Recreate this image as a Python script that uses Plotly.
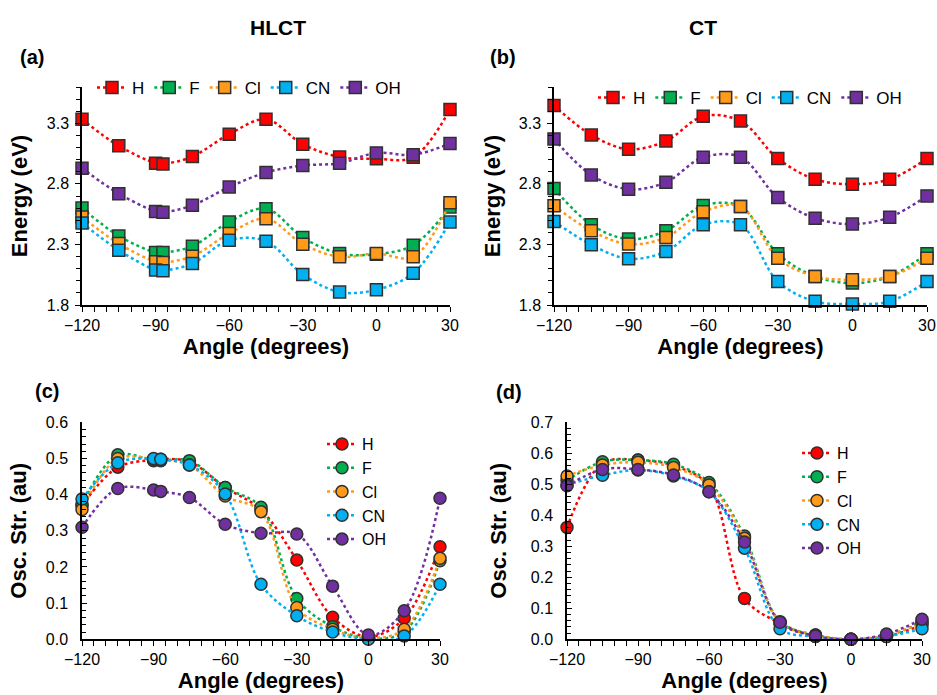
import plotly.graph_objects as go

names = ["H", "F", "Cl", "CN", "OH"]
colors = ["#FF0000", "#00B050", "#FF9A1A", "#00B0F0", "#7030A0"]

ang_a = [-120, -105, -90, -87, -75, -60, -45, -30, -15, 0, 15, 30]
ang_b = [-120, -105, -90, -75, -60, -45, -30, -15, 0, 15, 30]

# (a) HLCT energies (eV)
hlct_E = {
    "H":  [3.333, 3.114, 2.971, 2.965, 3.026, 3.210, 3.333, 3.127, 3.023, 3.007, 3.020, 3.415],
    "F":  [2.600, 2.370, 2.233, 2.233, 2.285, 2.486, 2.595, 2.357, 2.225, 2.220, 2.294, 2.610],
    "Cl": [2.527, 2.307, 2.157, 2.151, 2.203, 2.390, 2.513, 2.302, 2.198, 2.225, 2.198, 2.645],
    "CN": [2.477, 2.253, 2.088, 2.083, 2.143, 2.335, 2.327, 2.052, 1.907, 1.926, 2.063, 2.486],
    "OH": [2.930, 2.719, 2.573, 2.565, 2.623, 2.774, 2.894, 2.952, 2.971, 3.056, 3.040, 3.133],
}
# (b) CT energies (eV)
ct_E = {
    "H":  [3.448, 3.204, 3.086, 3.154, 3.358, 3.319, 3.009, 2.838, 2.797, 2.838, 3.009],
    "F":  [2.762, 2.463, 2.344, 2.413, 2.621, 2.613, 2.223, 2.036, 1.981, 2.036, 2.223],
    "Cl": [2.619, 2.413, 2.303, 2.358, 2.569, 2.613, 2.185, 2.036, 2.009, 2.036, 2.185],
    "CN": [2.490, 2.297, 2.182, 2.242, 2.462, 2.462, 1.995, 1.830, 1.808, 1.830, 1.995],
    "OH": [3.171, 2.874, 2.756, 2.814, 3.020, 3.020, 2.687, 2.517, 2.468, 2.525, 2.701],
}
# (c) HLCT oscillator strengths (au)
hlct_f = {
    "H":  [0.370, 0.476, 0.496, 0.498, 0.491, 0.420, 0.358, 0.219, 0.061, 0.007, 0.058, 0.256],
    "F":  [0.373, 0.510, 0.494, 0.494, 0.494, 0.420, 0.365, 0.113, 0.035, 0.003, 0.021, 0.217],
    "Cl": [0.359, 0.500, 0.498, 0.496, 0.482, 0.396, 0.353, 0.088, 0.028, 0.003, 0.028, 0.224],
    "CN": [0.388, 0.488, 0.500, 0.498, 0.482, 0.402, 0.152, 0.065, 0.020, 0.000, 0.009, 0.152],
    "OH": [0.310, 0.417, 0.413, 0.409, 0.392, 0.318, 0.293, 0.291, 0.147, 0.012, 0.079, 0.390],
}
# (d) CT oscillator strengths (au)
ct_f = {
    "H":  [0.361, 0.568, 0.578, 0.560, 0.495, 0.132, 0.052, 0.009, 0.000, 0.009, 0.046],
    "F":  [0.512, 0.573, 0.578, 0.565, 0.506, 0.333, 0.057, 0.014, 0.000, 0.009, 0.057],
    "Cl": [0.527, 0.562, 0.571, 0.554, 0.498, 0.326, 0.054, 0.014, 0.000, 0.014, 0.052],
    "CN": [0.498, 0.529, 0.546, 0.527, 0.476, 0.294, 0.034, 0.009, 0.000, 0.009, 0.034],
    "OH": [0.495, 0.548, 0.548, 0.530, 0.476, 0.314, 0.055, 0.011, 0.000, 0.017, 0.065],
}

FONT = "Liberation Sans, Arial, sans-serif"
W, H = 937, 695

fig = go.Figure()

panels = [
    (ang_a, hlct_E, "square", "x", "y", "legend"),
    (ang_b, ct_E, "square", "x2", "y2", "legend2"),
    (ang_a, hlct_f, "circle", "x3", "y3", "legend3"),
    (ang_b, ct_f, "circle", "x4", "y4", "legend4"),
]
for xs, data, sym, xa, ya, lg in panels:
    for n, c in zip(names, colors):
        fig.add_trace(go.Scatter(
            x=xs, y=data[n], name=n, mode="lines+markers",
            xaxis=xa, yaxis=ya, legend=lg, cliponaxis=False,
            line=dict(color=c, width=2.5, dash="dot", shape="spline", smoothing=1.0),
            marker=dict(symbol=sym, size=12, color=c, line=dict(color="#303030", width=1.5)),
        ))

def px_dom_x(a, b):
    return [a / W, b / W]

def px_dom_y(top, bot):
    return [1 - bot / H, 1 - top / H]

tickfont = dict(family=FONT, size=16, color="black")
titlefont = dict(family=FONT, size=22, color="black", weight="bold")

def xaxis(dom, anchor):
    return dict(domain=dom, anchor=anchor, range=[-120, 30], tick0=-120, dtick=30,
                showgrid=False, zeroline=False, showline=True, linecolor="black", linewidth=1.5,
                ticks="outside", ticklen=5, tickwidth=1.2, tickcolor="black", tickfont=tickfont,
                automargin=False,
                minor=dict(dtick=5, ticks="outside", ticklen=5, tickwidth=1.2, tickcolor="black"),
                title=dict(text="Angle (degrees)", font=titlefont, standoff=4))

def yaxis(dom, anchor, rng, t0, dt, mdt, title, fmt, so, tk, tls):
    return dict(domain=dom, anchor=anchor, range=rng, tick0=t0, dtick=dt, tickformat=fmt,
                showgrid=False, zeroline=False, showline=True, linecolor="black", linewidth=1.5,
                ticks=tk, ticklen=5, tickwidth=1.2, tickcolor="black", tickfont=tickfont,
                ticklabelstandoff=tls, automargin=False,
                minor=dict(dtick=mdt, tick0=t0, ticks=tk, ticklen=4, tickwidth=1.2, tickcolor="black"),
                title=dict(text=title, font=titlefont, standoff=so))

top_y = px_dom_y(87, 305)
bot_y = px_dom_y(422.3, 639.3)

fig.update_layout(
    width=W, height=H,
    margin=dict(l=0, r=0, t=0, b=0, autoexpand=False),
    paper_bgcolor="white", plot_bgcolor="white",
    font=dict(family=FONT, color="black"),
    xaxis=xaxis(px_dom_x(82, 450), "y"),
    yaxis=yaxis(top_y, "x", [1.8, 3.6], 1.8, 0.5, 0.1, "Energy (eV)", ".1f", 13, "outside", 3),
    xaxis2=xaxis(px_dom_x(554, 927), "y2"),
    yaxis2=yaxis(top_y, "x2", [1.8, 3.6], 1.8, 0.5, 0.1, "Energy (eV)", ".1f", 12, "outside", 3),
    xaxis3=xaxis(px_dom_x(82, 440), "y3"),
    yaxis3=yaxis(bot_y, "x3", [0, 0.6], 0, 0.1, 0.02, "Osc. Str. (au)", ".1f", 13, "inside", 9),
    xaxis4=xaxis(px_dom_x(567, 922), "y4"),
    yaxis4=yaxis(bot_y, "x4", [0, 0.7], 0, 0.1, 0.02, "Osc. Str. (au)", ".1f", 18, "inside", 9),
    legend=dict(orientation="h", x=92 / W, y=1 - 88 / H, xanchor="left", yanchor="middle",
                bgcolor="rgba(0,0,0,0)", font=dict(family=FONT, size=17), itemwidth=30),
    legend2=dict(orientation="h", x=593 / W, y=1 - 98 / H, xanchor="left", yanchor="middle",
                 bgcolor="rgba(0,0,0,0)", font=dict(family=FONT, size=17), itemwidth=30),
    legend3=dict(orientation="v", x=322 / W, y=1 - 427 / H, xanchor="left", yanchor="top",
                 bgcolor="rgba(0,0,0,0)", font=dict(family=FONT, size=16), itemwidth=30),
    legend4=dict(orientation="v", x=797 / W, y=1 - 436 / H, xanchor="left", yanchor="top",
                 bgcolor="rgba(0,0,0,0)", font=dict(family=FONT, size=16), itemwidth=30),
    annotations=[
        dict(text="<b>HLCT</b>", x=278 / W, y=1 - 27 / H, xref="paper", yref="paper",
             showarrow=False, font=dict(family=FONT, size=21), xanchor="center", yanchor="middle"),
        dict(text="<b>CT</b>", x=703 / W, y=1 - 27 / H, xref="paper", yref="paper",
             showarrow=False, font=dict(family=FONT, size=21), xanchor="center", yanchor="middle"),
        dict(text="<b>(a)</b>", x=32 / W, y=1 - 57 / H, xref="paper", yref="paper",
             showarrow=False, font=dict(family=FONT, size=20), xanchor="center", yanchor="middle"),
        dict(text="<b>(b)</b>", x=503 / W, y=1 - 57 / H, xref="paper", yref="paper",
             showarrow=False, font=dict(family=FONT, size=20), xanchor="center", yanchor="middle"),
        dict(text="<b>(c)</b>", x=47 / W, y=1 - 391 / H, xref="paper", yref="paper",
             showarrow=False, font=dict(family=FONT, size=20), xanchor="center", yanchor="middle"),
        dict(text="<b>(d)</b>", x=509 / W, y=1 - 392 / H, xref="paper", yref="paper",
             showarrow=False, font=dict(family=FONT, size=20), xanchor="center", yanchor="middle"),
    ],
)

fig.write_html("out.html", config={"displayModeBar": False},
               post_script="document.body.style.margin='0px';document.body.style.overflow='hidden';")
